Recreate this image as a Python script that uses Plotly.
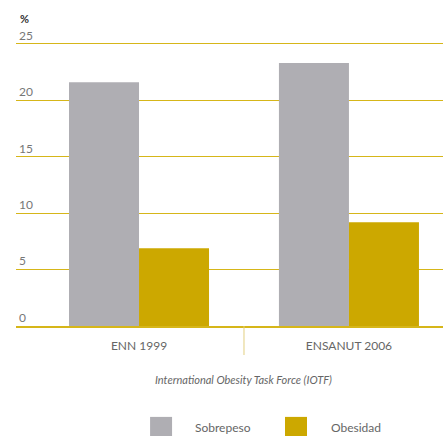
import plotly.graph_objects as go

categories = ["ENN 1999", "ENSANUT 2006"]
sobrepeso = [21.6, 23.3]
obesidad = [6.9, 9.2]
y_ticks = [0, 5, 10, 15, 20, 25]

gray = "#AFAEB3"
gold = "#CCA800"
grid = "#D6B619"
font = "Lato, 'Open Sans', sans-serif"

x_pos = list(range(len(categories)))

fig = go.Figure()
fig.add_trace(go.Bar(x=x_pos, y=sobrepeso, name="Sobrepeso", marker_color=gray, marker_line_width=0))
fig.add_trace(go.Bar(x=x_pos, y=obesidad, name="Obesidad", marker_color=gold, marker_line_width=0))

fig.update_layout(
    width=443, height=436,
    margin=dict(l=16, r=0, t=27, b=110),
    barmode="group", bargap=0.333, bargroupgap=0,
    plot_bgcolor="white", paper_bgcolor="white",
    showlegend=False,
    font=dict(family=font, color="#666666", size=12),
)
fig.update_xaxes(
    range=[-0.586, 1.448], tickvals=x_pos, ticktext=categories,
    showgrid=False, zeroline=False, showline=True, linecolor=grid, linewidth=2,
    ticks="", ticklabelstandoff=8, tickfont=dict(size=12, color="#666666"),
)
fig.update_yaxes(
    range=[0, 26.5], tickvals=y_ticks, ticklabelposition="inside top",
    showgrid=True, gridcolor=grid, gridwidth=1, zeroline=False,
    tickfont=dict(size=12, color="#777777"),
)

# separator between the two groups
fig.add_shape(type="line", xref="x", yref="paper", x0=0.5, x1=0.5, y0=0, y1=-0.097,
              line=dict(color="#E2CF80", width=1))

fig.add_annotation(text="<b>%</b>", xref="paper", yref="paper", x=0.005, y=1.030,
                   xanchor="left", yanchor="middle", showarrow=False,
                   font=dict(size=11, color="#333333"))
fig.add_annotation(text="<i>International Obesity Task Force (IOTF)</i>", xref="paper", yref="paper",
                   x=0.532, y=-0.1806, xanchor="center", yanchor="middle", showarrow=False,
                   font=dict(size=11, color="#666666"))

# legend
legend_items = [("Sobrepeso", gray, 0.314, 0.4145), ("Obesidad", gold, 0.630, 0.733)]
for name, color, x0, tx in legend_items:
    fig.add_shape(type="rect", xref="paper", yref="paper", x0=x0, x1=x0 + 0.0515,
                  y0=-0.368, y1=-0.304, fillcolor=color, line_width=0)
    fig.add_annotation(text=name, xref="paper", yref="paper", x=tx, y=-0.338,
                       xanchor="left", yanchor="middle", showarrow=False,
                       font=dict(size=12, color="#666666"))

fig.write_html("out.html", config={"displayModeBar": False},
               post_script="document.body.style.margin='0';")
